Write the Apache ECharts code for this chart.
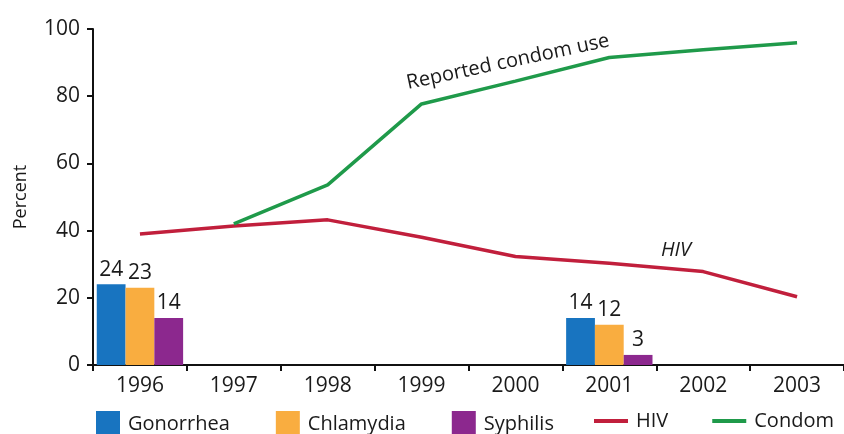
<!DOCTYPE html>
<html>
<head>
<meta charset="utf-8">
<script src="https://cdn.jsdelivr.net/npm/echarts@6/dist/echarts.min.js"></script>
<style>html,body{margin:0;padding:0;background:#fff}#c{width:844px;height:434px}</style>
</head>
<body>
<div id="c"></div>
<script>
var years = ['1996','1997','1998','1999','2000','2001','2002','2003'];
var gonorrhea = [24, null, null, null, null, 14, null, null];
var chlamydia = [23, null, null, null, null, 12, null, null];
var syphilis  = [14, null, null, null, null, 3, null, null];
var hiv       = [39, 41.4, 43.2, 38, 32.3, 30.3, 27.8, 20.3];
var condom    = [null, 42, 53.6, 77.7, 84.5, 91.5, 93.8, 95.9];
var yTicks = [0, 20, 40, 60, 80, 100];

var FONT = 'Open Sans';
var chart = echarts.init(document.getElementById('c'), null, {renderer: 'canvas'});
function barLabel() {
  return {show: true, position: 'top', distance: 4, fontFamily: FONT, fontSize: 21, color: '#1a1a1a',
    formatter: function (p) { return p.value == null ? '' : p.value; }};
}
chart.setOption({
  animation: false,
  textStyle: {fontFamily: FONT},
  grid: {left: 93, top: 29, right: -3, height: 336, containLabel: false},
  legend: [{
    data: ['Gonorrhea', 'Chlamydia', 'Syphilis'],
    left: 96, top: 411, padding: 0, itemWidth: 24, itemHeight: 26, itemGap: 46,
    icon: 'rect',
    textStyle: {fontFamily: FONT, fontSize: 20, color: '#1a1a1a', padding: [2, 0, 0, 3]}
  }, {
    data: ['HIV', 'Condom'],
    left: 594, top: 411, padding: 0, width: 260, itemWidth: 34, itemHeight: 4, itemGap: 44,
    icon: 'rect',
    textStyle: {fontFamily: FONT, fontSize: 20, color: '#1a1a1a', padding: [2, 0, 0, 3]}
  }],
  xAxis: {
    type: 'category', data: years, boundaryGap: true,
    axisLine: {lineStyle: {color: '#111', width: 2}},
    axisTick: {show: true, length: 6, lineStyle: {color: '#111', width: 2}},
    axisLabel: {fontFamily: FONT, fontSize: 21, color: '#1a1a1a', margin: 11}
  },
  yAxis: {
    type: 'value', min: 0, max: 100, interval: 20,
    name: 'Percent', nameLocation: 'middle', nameGap: 63, nameRotate: 90,
    nameTextStyle: {fontFamily: FONT, fontSize: 18, color: '#1a1a1a'},
    axisLine: {show: true, lineStyle: {color: '#111', width: 2}},
    axisTick: {show: true, length: 6, lineStyle: {color: '#111', width: 2}},
    splitLine: {show: false},
    axisLabel: {fontFamily: FONT, fontSize: 21, color: '#1a1a1a', margin: 13,
      formatter: function (v) { return yTicks.indexOf(v) >= 0 ? String(v) : ''; }}
  },
  series: [
    {name: 'Gonorrhea', type: 'bar', data: gonorrhea, barGap: '0%', barCategoryGap: '8%',
      itemStyle: {color: '#1874c0'}, label: barLabel()},
    {name: 'Chlamydia', type: 'bar', data: chlamydia, barGap: '0%', barCategoryGap: '8%',
      itemStyle: {color: '#f9ad40'}, label: barLabel()},
    {name: 'Syphilis', type: 'bar', data: syphilis, barGap: '0%', barCategoryGap: '8%',
      itemStyle: {color: '#8c288e'}, label: barLabel()},
    {name: 'HIV', type: 'line', data: hiv, symbol: 'none', showSymbol: false,
      lineStyle: {color: '#c11f3c', width: 3.5}, itemStyle: {color: '#c11f3c'}},
    {name: 'Condom', type: 'line', data: condom, symbol: 'none', showSymbol: false, connectNulls: false,
      lineStyle: {color: '#1f9a4a', width: 3.5}, itemStyle: {color: '#1f9a4a'}}
  ],
  graphic: [
    {type: 'text', x: 508, y: 62, rotation: 12 * Math.PI / 180,
      style: {text: 'Reported condom use', fontFamily: FONT, fontSize: 20, fill: '#1a1a1a',
        align: 'center', verticalAlign: 'middle'}},
    {type: 'text', x: 676, y: 250,
      style: {text: 'HIV', fontFamily: FONT, fontSize: 20, fontStyle: 'italic', fill: '#1a1a1a',
        align: 'center', verticalAlign: 'middle'}}
  ]
});
</script>
</body>
</html>
